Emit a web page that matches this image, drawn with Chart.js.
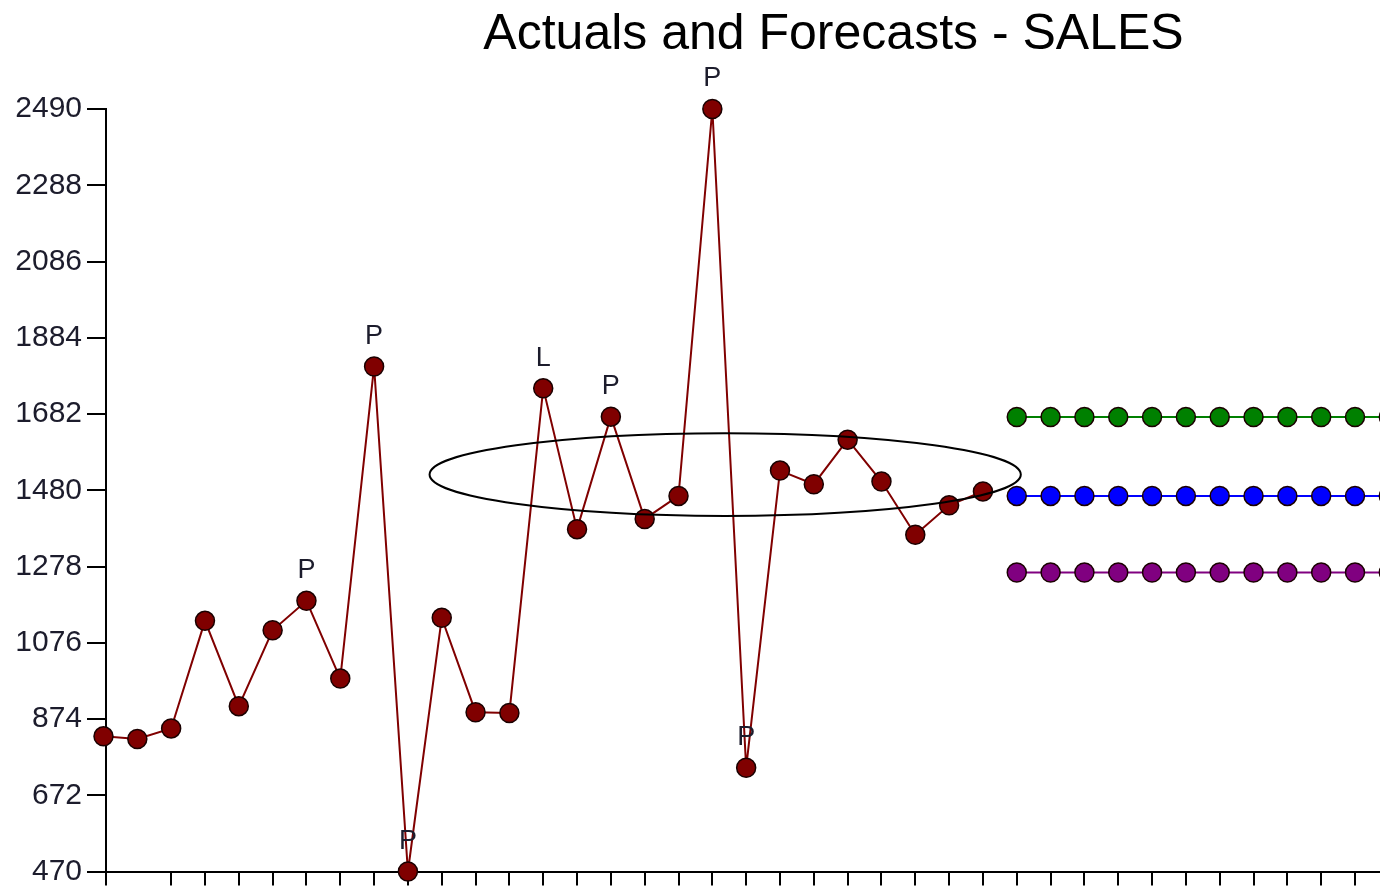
<!DOCTYPE html>
<html>
<head>
<meta charset="utf-8">
<script src="https://cdn.jsdelivr.net/npm/chart.js@4/dist/chart.umd.min.js"></script>
<style>
  html, body { margin: 0; padding: 0; background: #fff; overflow: hidden; }
  #wrap { width: 1572px; height: 890px; }
</style>
</head>
<body>
<div id="wrap"><canvas id="salesChart" width="1572" height="890"></canvas></div>
<script>
// period index of each actual observation
const periods = [0, 1, 2, 3, 4, 5, 6, 7, 8, 9, 10, 11, 12, 13, 14, 15, 16, 17, 18, 19, 20, 21, 22, 23, 24, 25, 26];
const actuals = [828, 821, 849, 1134, 908, 1109, 1187, 981, 1808, 470, 1142, 892, 890, 1750, 1377, 1675, 1404, 1465, 2490, 745, 1532, 1496, 1614, 1503, 1362, 1440, 1477];
// P = peak / trough flag, L = level shift flag
const pointFlags = ['', '', '', '', '', '', 'P', '', 'P', 'P', '', '', '', 'L', '', 'P', '', '', 'P', 'P', '', '', '', '', '', '', ''];

const forecastPeriods = [27, 28, 29, 30, 31, 32, 33, 34, 35, 36, 37, 38];
const forecastUpper = [1674, 1674, 1674, 1674, 1674, 1674, 1674, 1674, 1674, 1674, 1674, 1674];
const forecastMid = [1465, 1465, 1465, 1465, 1465, 1465, 1465, 1465, 1465, 1465, 1465, 1465];
const forecastLower = [1262, 1262, 1262, 1262, 1262, 1262, 1262, 1262, 1262, 1262, 1262, 1262];

const yTicks = [470, 672, 874, 1076, 1278, 1480, 1682, 1884, 2086, 2288, 2490];

// highlighted region, in data units: [from period, to period], [low value, high value]
const ellipsePeriods = [9.64, 27.12];
const ellipseValues = [1412, 1631];

const toPoints = (xs, ys) => xs.map((x, i) => ({ x: x, y: ys[i] }));

function seriesStyle(color) {
  return {
    borderColor: color,
    backgroundColor: color,
    borderWidth: 2,
    pointRadius: 9.5,
    pointBorderColor: '#1a0000',
    pointBorderWidth: 1.5,
    pointHoverRadius: 9.5,
    tension: 0,
    clip: false
  };
}

// draws the P / L flags above the actual points
const flagLabels = {
  id: 'flagLabels',
  afterDatasetsDraw(chart) {
    const meta = chart.getDatasetMeta(0);
    const ctx = chart.ctx;
    ctx.save();
    ctx.font = '27px "Liberation Sans", Arial, sans-serif';
    ctx.fillStyle = '#1c1c2c';
    ctx.textAlign = 'center';
    ctx.textBaseline = 'middle';
    meta.data.forEach((pt, i) => {
      if (pointFlags[i]) ctx.fillText(pointFlags[i], pt.x, pt.y - 30);
    });
    ctx.restore();
  }
};

// the black ellipse around the recent stretch of actuals
const ellipseMark = {
  id: 'ellipseMark',
  afterDatasetsDraw(chart) {
    const xs = chart.scales.x, ys = chart.scales.y;
    const x1 = xs.getPixelForValue(ellipsePeriods[0]);
    const x2 = xs.getPixelForValue(ellipsePeriods[1]);
    const y1 = ys.getPixelForValue(ellipseValues[1]);
    const y2 = ys.getPixelForValue(ellipseValues[0]);
    const ctx = chart.ctx;
    ctx.save();
    ctx.beginPath();
    ctx.ellipse((x1 + x2) / 2, (y1 + y2) / 2, (x2 - x1) / 2, (y2 - y1) / 2, 0, 0, Math.PI * 2);
    ctx.strokeStyle = '#000';
    ctx.lineWidth = 2;
    ctx.stroke();
    ctx.restore();
  }
};

const ctx = document.getElementById('salesChart').getContext('2d');
new Chart(ctx, {
  type: 'line',
  data: {
    datasets: [
      Object.assign({ label: 'Actuals', data: toPoints(periods, actuals) }, seriesStyle('#800000')),
      Object.assign({ label: 'Upper', data: toPoints(forecastPeriods, forecastUpper) }, seriesStyle('#008000')),
      Object.assign({ label: 'Forecast', data: toPoints(forecastPeriods, forecastMid) }, seriesStyle('#0000ff')),
      Object.assign({ label: 'Lower', data: toPoints(forecastPeriods, forecastLower) }, seriesStyle('#800080'))
    ]
  },
  options: {
    responsive: false,
    animation: false,
    layout: { padding: { left: 0, right: 0, top: 0, bottom: 0 } },
    plugins: {
      legend: { display: false },
      tooltip: { enabled: false },
      title: {
        display: true,
        fullSize: false,
        text: 'Actuals and Forecasts - SALES',
        color: '#000',
        font: { family: '"Liberation Sans", Arial, sans-serif', size: 50, weight: 'normal', lineHeight: 1.2 },
        padding: { top: 5, bottom: 44 }
      }
    },
    scales: {
      x: {
        type: 'linear',
        min: 0.074,
        max: 43.09,
        grid: { display: true, drawOnChartArea: false, drawTicks: true, tickLength: 14, color: '#000', lineWidth: 2 },
        border: { display: true, color: '#000', width: 2 },
        ticks: { display: false, stepSize: 1, autoSkip: false, maxTicksLimit: 100 }
      },
      y: {
        min: yTicks[0],
        max: yTicks[yTicks.length - 1],
        afterBuildTicks(scale) {
          scale.ticks = yTicks.map(v => ({ value: v }));
        },
        afterFit(scale) { scale.width = 106; },
        grid: { display: true, drawOnChartArea: false, drawTicks: true, tickLength: 19, color: '#000', lineWidth: 2 },
        border: { display: true, color: '#000', width: 2 },
        ticks: {
          color: '#1c1c2c',
          padding: 5,
          font: { family: '"Liberation Sans", Arial, sans-serif', size: 30, lineHeight: 0.9 },
          callback: (value) => String(value)
        }
      }
    }
  },
  plugins: [flagLabels, ellipseMark]
});
</script>
</body>
</html>
